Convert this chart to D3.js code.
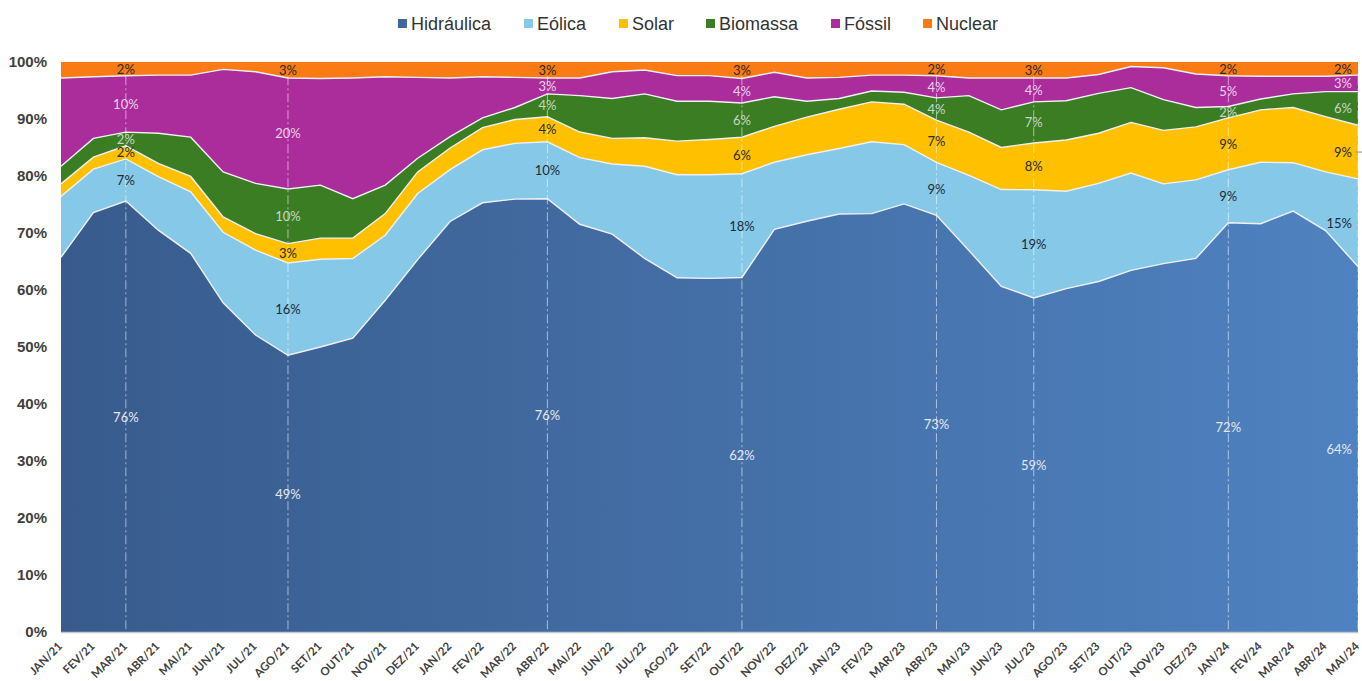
<!DOCTYPE html>
<meta charset="utf-8">
<style type="text/css">
body { margin: 0; background: #fff; }
svg { display: block; font-family: "Liberation Sans", Arial, sans-serif; }
.ytick { font-size: 15px; font-weight: bold; fill: #404040; }
.xtick { font-family: Lato, "Open Sans", sans-serif; font-size: 11.5px; font-weight: bold; fill: #404040; }
.legend text { font-size: 18px; fill: #333; }
.lbl { font-family: Lato, "Open Sans", sans-serif; font-size: 13px; text-anchor: middle; dominant-baseline: central; }
.edge { fill: none; stroke: #eef0f4; stroke-width: 1.4; }
.drop { stroke: #ffffff; stroke-opacity: .55; stroke-width: 1; stroke-dasharray: 9,3,2,3; }
</style>
<svg width="1362" height="681"></svg>
<script src="https://d3js.org/d3.v7.min.js"></script>
<script>

// months JAN/21 .. MAI/24
var months = ["JAN/21","FEV/21","MAR/21","ABR/21","MAI/21","JUN/21","JUL/21","AGO/21","SET/21","OUT/21","NOV/21","DEZ/21",
              "JAN/22","FEV/22","MAR/22","ABR/22","MAI/22","JUN/22","JUL/22","AGO/22","SET/22","OUT/22","NOV/22","DEZ/22",
              "JAN/23","FEV/23","MAR/23","ABR/23","MAI/23","JUN/23","JUL/23","AGO/23","SET/23","OUT/23","NOV/23","DEZ/23",
              "JAN/24","FEV/24","MAR/24","ABR/24","MAI/24"];

// share of each source, %
var hidraulica = [65.8,73.6,75.6,70.5,66.5,57.8,52.1,48.6,50.0,51.6,58.2,65.4,
                  72.1,75.3,76.1,76.0,71.6,69.8,65.6,62.2,62.1,62.2,70.7,72.2,
                  73.4,73.4,75.1,73.1,67.0,60.7,58.6,60.3,61.5,63.5,64.7,65.6,
                  71.8,71.7,74.0,70.5,64.1];
var eolica     = [10.7,7.6,7.4,9.4,10.8,12.4,14.9,16.2,15.4,14.0,11.4,11.6,
                  9.1,9.3,9.8,10.0,11.7,12.3,16.2,18.1,18.2,18.2,11.8,11.7,
                  11.5,12.6,10.4,9.3,13.2,17.0,19.0,17.1,17.2,17.1,14.0,13.8,
                  9.3,10.8,8.5,10.3,15.4];
var solar      = [2.2,2.1,2.3,2.3,2.7,2.7,2.9,3.4,3.7,3.6,3.8,3.8,
                  3.8,3.9,4.2,4.4,4.5,4.5,5.0,5.9,6.2,6.4,6.3,6.6,
                  6.9,7.0,7.1,7.4,7.6,7.4,8.2,9.0,8.8,8.9,9.4,9.3,
                  9.1,9.2,9.7,9.7,9.4];
var biomassa   = [3.1,3.3,2.4,5.3,6.9,7.9,8.8,9.6,9.3,6.9,5.0,2.4,
                  2.0,1.7,2.1,4.0,6.4,7.0,7.7,7.0,6.7,6.0,5.2,2.8,
                  1.9,1.9,2.1,3.9,6.4,6.6,7.2,6.9,7.0,6.1,5.4,3.4,
                  2.0,1.9,2.4,4.4,5.9];
var fossil     = [15.5,10.8,9.9,10.2,10.9,18.0,19.6,19.5,18.7,21.2,19.0,14.2,
                  10.3,7.2,5.3,2.8,3.1,4.7,4.2,4.5,4.5,4.3,4.3,4.1,
                  3.7,2.8,3.0,3.9,3.1,5.6,4.2,4.0,3.3,3.7,5.6,5.9,
                  5.4,4.0,3.1,2.7,2.9];
var nuclear    = [2.8,2.6,2.4,2.3,2.3,1.3,1.7,2.8,2.9,2.8,2.6,2.7,
                  2.8,2.6,2.7,2.8,2.8,1.7,1.4,2.4,2.4,2.9,1.8,2.8,
                  2.7,2.3,2.3,2.4,2.8,2.8,2.8,2.8,2.2,0.8,1.0,2.1,
                  2.4,2.5,2.5,2.5,2.3];

var sources = ["Hidráulica","Eólica","Solar","Biomassa","Fóssil","Nuclear"];
var colors  = ["url(#hidroGrad)","#86c8e8","#ffc000","#3b7d23","#aa2d9b","#fa7a14"];
var legendColors = ["#3f679e","#86c8e8","#ffc000","#3b7d23","#aa2d9b","#fa7a14"];
var labelColors  = ["#e4e8f0","#1e2a36","#2a2a2a","#c9d6c4","#ecd2ea","#2a2a2a"];
var yTicks = [0,.1,.2,.3,.4,.5,.6,.7,.8,.9,1];
// months that carry data labels
var labelMonths = ["MAR/21","AGO/21","ABR/22","OUT/22","ABR/23","JUL/23","JAN/24","MAI/24"];

var svg = d3.select("svg"),
    plotL = 61, plotR = 1358, plotT = 62, plotB = 632;

var series = [hidraulica, eolica, solar, biomassa, fossil, nuclear];
var rows = months.map(function(m, i){
  var r = {month: m};
  sources.forEach(function(s, k){ r[s] = series[k][i]; });
  return r;
});

var stack = d3.stack().keys(sources).offset(d3.stackOffsetExpand);
var layers = stack(rows);

var x = d3.scalePoint().domain(months).range([plotL, plotR]);
var y = d3.scaleLinear().domain([0, 1]).range([plotB, plotT]);

var defs = svg.append("defs");
var grad = defs.append("linearGradient").attr("id", "hidroGrad")
  .attr("gradientUnits", "userSpaceOnUse")
  .attr("x1", plotL).attr("x2", plotR).attr("y1", 0).attr("y2", 0);
grad.append("stop").attr("offset", "0%").attr("stop-color", "#385b8c");
grad.append("stop").attr("offset", "100%").attr("stop-color", "#4f82c0");

var area = d3.area()
  .x(function(d){ return x(d.data.month); })
  .y0(function(d){ return y(d[0]); })
  .y1(function(d){ return y(d[1]); });

var topLine = d3.line()
  .x(function(d){ return x(d.data.month); })
  .y(function(d){ return y(d[1]); });

var g = svg.append("g");

g.selectAll("path.area").data(layers).enter().append("path")
  .attr("class", "area")
  .attr("d", area)
  .attr("fill", function(d, i){ return colors[i]; });

g.selectAll("path.edge").data(layers.slice(0, 5)).enter().append("path")
  .attr("class", "edge")
  .attr("d", topLine);

// base line
g.append("line")
  .attr("x1", plotL).attr("x2", plotR)
  .attr("y1", plotB + 0.5).attr("y2", plotB + 0.5)
  .attr("stroke", "#c8c8c8").attr("stroke-width", 1.5);

// drop lines at labelled months
g.selectAll("line.drop").data(labelMonths).enter().append("line")
  .attr("class", "drop")
  .attr("x1", function(d){ return x(d); }).attr("x2", function(d){ return x(d); })
  .attr("y1", y(0.975)).attr("y2", plotB);

// data labels
var lastMonth = months[months.length - 1];
layers.forEach(function(layer, k){
  var pts = layer.filter(function(d){ return labelMonths.indexOf(d.data.month) >= 0; });
  g.selectAll("text.l" + k).data(pts).enter().append("text")
    .attr("class", "lbl l" + k)
    .attr("x", function(d){ return d.data.month === lastMonth ? x(d.data.month) - 6 : x(d.data.month); })
    .attr("y", function(d){ return y((d[0] + d[1]) / 2); })
    .style("text-anchor", function(d){ return d.data.month === lastMonth ? "end" : "middle"; })
    .attr("fill", labelColors[k])
    .text(function(d){ return Math.round(d.data[sources[k]]) + "%"; });
});

// small leader for the last solar label
var lastSolar = layers[2][months.length - 1];
g.append("line")
  .attr("x1", x(lastMonth) - 2).attr("x2", x(lastMonth) + 4)
  .attr("y1", y((lastSolar[0] + lastSolar[1]) / 2)).attr("y2", y((lastSolar[0] + lastSolar[1]) / 2))
  .attr("stroke", "#8a8a8a").attr("stroke-width", 1);

// y axis labels
svg.selectAll("text.ytick").data(yTicks).enter().append("text")
  .attr("class", "ytick")
  .attr("x", 47)
  .attr("y", function(d){ return y(d); })
  .attr("dy", "0.35em")
  .attr("text-anchor", "end")
  .text(d3.format(".0%"));

// x axis labels
svg.selectAll("text.xtick").data(months).enter().append("text")
  .attr("class", "xtick")
  .attr("text-anchor", "end")
  .attr("transform", function(d){ return "translate(" + (x(d) + 2) + "," + (plotB + 15) + ") rotate(-45)"; })
  .text(function(d){ return d; });

// legend
var legend = svg.append("g").attr("class", "legend");
var lx = 0;
var items = legend.selectAll("g").data(sources).enter().append("g");
items.append("rect").attr("width", 9).attr("height", 9).attr("y", -5)
  .attr("fill", function(d, i){ return legendColors[i]; });
items.append("text").attr("x", 13).attr("dy", "0.35em").text(function(d){ return d; });
items.each(function(){
  var w = this.getBBox().width;
  d3.select(this).attr("transform", "translate(" + lx + ",0)");
  lx += w + 32;
});
lx -= 32;
legend.attr("transform", "translate(" + (698 - lx / 2) + ",24)");

</script>
